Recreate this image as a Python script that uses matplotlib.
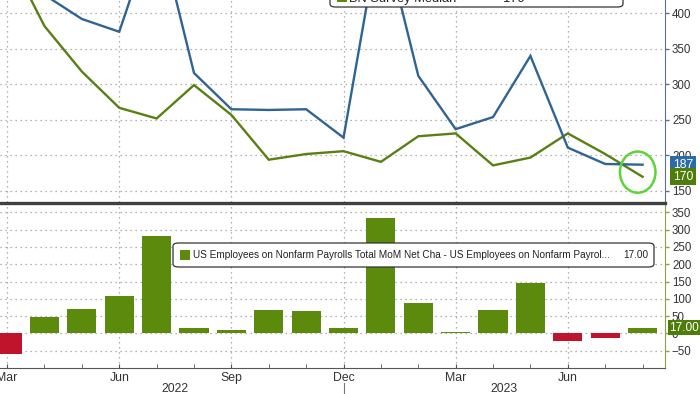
import matplotlib
matplotlib.use("Agg")
import matplotlib.pyplot as plt
import matplotlib.ticker as mticker
from matplotlib.patches import FancyBboxPatch, Rectangle, Ellipse
from matplotlib.lines import Line2D
import numpy as np

plt.rcParams["font.family"] = ["Liberation Sans", "DejaVu Sans"]

# monthly data, Mar 2022 .. Aug 2023
months = ["Mar", "Apr", "May", "Jun", "Jul", "Aug", "Sep", "Oct", "Nov", "Dec",
          "Jan", "Feb", "Mar", "Apr", "May", "Jun", "Jul", "Aug"]
years = ["2022", "2023"]
actual = [425, 426, 392, 374, 530, 316, 265, 264, 265, 225,
          525, 312, 237, 254, 340, 211, 188, 187]
survey = [485, 382, 318, 267, 252, 299, 257, 194, 202, 206,
          191, 227, 231, 186, 197, 231, 202, 170]
surprise = [-60, 48, 72, 108, 282, 17, 9, 69, 64, 17,
            334, 88, 5, 69, 146, -21, -13, 17]
top_ticks = [150, 200, 250, 300, 350, 400]
bot_ticks = [-50, 0, 50, 100, 150, 200, 250, 300, 350]

BLUE = "#2f6493"
GREEN = "#5a7f12"
BAR_GREEN = "#5b8a0c"
RED = "#c0142c"
GRID = "#9a9a9a"
FS = 8.3

W, H = 700, 394
def fx(px):
    return px / W
def fy(py):
    return 1 - py / H

fig = plt.figure(figsize=(7, 3.94), dpi=100)
ax1 = fig.add_axes([0, fy(202), fx(665), 202 / H])
ax2 = fig.add_axes([0, fy(368), fx(665), (368 - 203) / H])
x = np.arange(len(months))

for ax, col in ((ax1, "#5a7390"), (ax2, "#8aa24a")):
    ax.set_xlim(-0.19, 17.6)
    for s in ("left", "top"):
        ax.spines[s].set_visible(False)
    ax.spines["right"].set_color(col)
    ax.yaxis.tick_right()
    ax.tick_params(axis="y", which="both", direction="out", length=3, width=1,
                   color=col, labelsize=FS, labelcolor="#333333", pad=2)
    ax.xaxis.set_major_locator(mticker.FixedLocator([0, 3, 6, 9, 12, 15]))
    ax.xaxis.set_minor_locator(mticker.FixedLocator(x))
    ax.grid(True, which="major", color=GRID, linestyle=(0, (1, 3)), linewidth=0.9)
    ax.set_axisbelow(True)

# top panel: actual vs survey
ax1.plot(x, survey, color=GREEN, lw=1.7, solid_joinstyle="miter")
ax1.plot(x, actual, color=BLUE, lw=1.7, solid_joinstyle="miter")
ax1.set_ylim(134.5, 418.7)
ax1.set_yticks(top_ticks)
ax1.spines["bottom"].set_visible(False)
ax1.tick_params(axis="x", which="both", length=0, labelbottom=False)

ell = Ellipse((x[-1] - 0.13, (actual[-1] + survey[-1]) / 2 - 2), 0.95, 58,
              fill=False, edgecolor="#5fd33a", lw=1.8, clip_on=False, zorder=5)
ax1.add_patch(ell)

for val, col in ((actual[-1], "#2c6ca6"), (survey[-1], "#4f7d0a")):
    ax1.text(1.012, val, str(val), transform=ax1.get_yaxis_transform(),
             ha="left", va="center", color="white", fontsize=FS + 0.5,
             bbox=dict(boxstyle="square,pad=0.22", fc=col, ec="none"))

# bottom panel: surprise bars
bar_cols = [BAR_GREEN if v >= 0 else RED for v in surprise]
ax2.bar(x, surprise, width=0.78, color=bar_cols, zorder=3)
ax2.set_ylim(-100, 377)
ax2.set_yticks(bot_ticks)
ax2.spines["bottom"].set_color("#555555")
ax2.set_xticklabels(["Mar", "Jun", "Sep", "Dec", "Mar", "Jun"])
ax2.tick_params(axis="x", which="both", direction="in", length=3, color="#555555",
                labelsize=FS + 0.5, labelcolor="#333333", pad=3)
ax2.text(1.006, surprise[-1], "%.2f" % surprise[-1], transform=ax2.get_yaxis_transform(),
         ha="left", va="center", color="white", fontsize=FS + 0.3,
         bbox=dict(boxstyle="square,pad=0.12", fc="#4f7d0a", ec="none"))

xt = ax2.get_xaxis_transform()
ax2.text(4.5, -0.125, years[0], transform=xt, ha="center", va="center",
         fontsize=FS + 0.5, color="#333333")
ax2.text(13.3, -0.125, years[1], transform=xt, ha="center", va="center",
         fontsize=FS + 0.5, color="#333333")
ax2.add_line(Line2D([9, 9], [-0.09, -0.16], transform=xt, color="#777777",
                    lw=0.8, clip_on=False))

# separator between panels
fig.add_artist(Line2D([0, fx(665)], [fy(202.5), fy(202.5)], color="#404040", lw=2.4))

# top legend (mostly above the frame)
fig.add_artist(FancyBboxPatch((fx(330), fy(7)), fx(623) - fx(330), 0.1,
                              boxstyle="round,pad=0,rounding_size=0.008",
                              fc="white", ec="#333333", lw=0.9))
fig.add_artist(Rectangle((fx(337), fy(2)), fx(10), 0.02, fc=BAR_GREEN, ec="none"))
fig.text(fx(349), fy(2), "BN Survey Median", fontsize=FS + 1, color="#222222",
         va="baseline", ha="left")
fig.text(fx(503), fy(2), "170", fontsize=FS + 1, color="#222222", va="baseline", ha="left")

# bottom legend
fig.add_artist(FancyBboxPatch((fx(173), fy(267)), fx(654) - fx(173), 24 / H,
                              boxstyle="round,pad=0,rounding_size=0.008",
                              fc="white", ec="#333333", lw=0.9))
fig.add_artist(Rectangle((fx(180), fy(260)), fx(10), 10 / H, fc=BAR_GREEN, ec="none"))
leg = fig.text(fx(193), fy(255), "US Employees on Nonfarm Payrolls Total MoM Net Cha - "
               "US Employees on Nonfarm Payrol...", fontsize=9, color="#222222",
               va="center", ha="left")
# shrink the legend text so that it fits the box like the reference
r = fig.canvas.get_renderer()
wpx = leg.get_window_extent(r).width
leg.set_fontsize(9 * 420 / wpx)
fig.text(fx(648), fy(255), "%.2f" % surprise[-1], fontsize=leg.get_fontsize(),
         color="#222222", va="center", ha="right")

fig.savefig("out.png", dpi=100)
